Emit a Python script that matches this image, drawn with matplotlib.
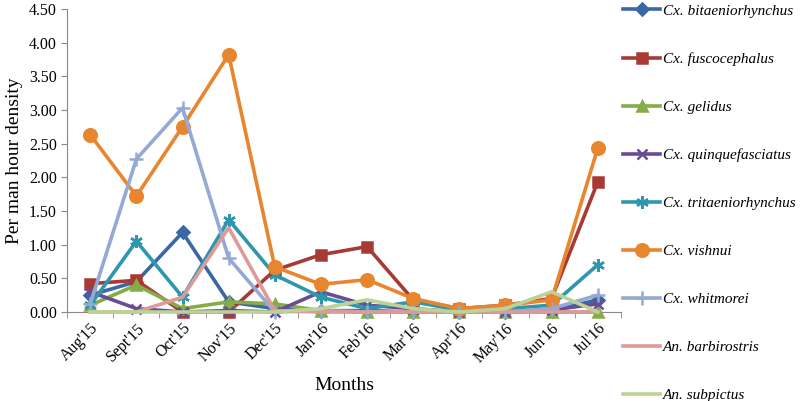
import numpy as np
import matplotlib
matplotlib.use("Agg")
import matplotlib.pyplot as plt

plt.rcParams['font.family'] = ['Liberation Serif', 'DejaVu Serif']

months = ["Aug'15", "Sept'15", "Oct'15", "Nov'15", "Dec'15", "Jan'16",
          "Feb'16", "Mar'16", "Apr'16", "May'16", "Jun'16", "Jul'16"]

bitaeniorhynchus = [0.25, 0.45, 1.18, 0.15, 0.05, 0.02, 0.02, 0.0, 0.0, 0.0, 0.02, 0.18]
fuscocephalus = [0.42, 0.47, 0.0, 0.0, 0.62, 0.85, 0.97, 0.18, 0.05, 0.1, 0.2, 1.93]
gelidus = [0.1, 0.4, 0.05, 0.15, 0.12, 0.02, 0.0, 0.0, 0.0, 0.0, 0.0, 0.0]
quinquefasciatus = [0.3, 0.05, 0.0, 0.02, 0.0, 0.3, 0.1, 0.05, 0.0, 0.0, 0.03, 0.12]
tritaeniorhynchus = [0.1, 1.05, 0.22, 1.37, 0.55, 0.22, 0.05, 0.15, 0.03, 0.05, 0.1, 0.7]
vishnui = [2.63, 1.72, 2.75, 3.82, 0.67, 0.41, 0.48, 0.2, 0.05, 0.1, 0.18, 2.43]
whitmorei = [0.12, 2.27, 3.03, 0.8, 0.0, 0.02, 0.0, 0.0, 0.0, 0.0, 0.05, 0.25]
barbirostris = [0.0, 0.0, 0.22, 1.25, 0.02, 0.0, 0.0, 0.0, 0.0, 0.0, 0.0, 0.0]
subpictus = [0.0, 0.0, 0.0, 0.0, 0.0, 0.05, 0.18, 0.05, 0.0, 0.05, 0.3, 0.0]

series = [
    ("Cx. bitaeniorhynchus", bitaeniorhynchus, "#3A67A5", "D", 6),
    ("Cx. fuscocephalus", fuscocephalus, "#A83A36", "s", 7),
    ("Cx. gelidus", gelidus, "#86AC47", "^", 7),
    ("Cx. quinquefasciatus", quinquefasciatus, "#6A4C93", "x", 7),
    ("Cx. tritaeniorhynchus", tritaeniorhynchus, "#2E97AE", (6, 2, 0), 9),
    ("Cx. vishnui", vishnui, "#E8852F", "o", 9),
    ("Cx. whitmorei", whitmorei, "#94AAD4", "+", 10),
    ("An. barbirostris", barbirostris, "#DC9A98", None, 0),
    ("An. subpictus", subpictus, "#BCD395", None, 0),
]

fig = plt.figure(figsize=(8, 4.01), dpi=100)
ax = fig.add_axes([0.084, 0.222, 0.692, 0.756])

x = np.arange(len(months))
for name, vals, col, mk, ms in series:
    ax.plot(x, vals, color=col, lw=2.6, marker=mk, markersize=ms,
            markeredgewidth=1.8, label=name, clip_on=False, zorder=3)

ax.set_xlim(-0.5, len(months) - 0.5)
ax.set_ylim(0, 4.5)
ax.set_yticks(np.arange(0, 4.51, 0.5))
ax.set_yticklabels([f"{v:.2f}" for v in np.arange(0, 4.51, 0.5)], fontsize=11.5)
ax.set_xticks(x)
ax.set_xticklabels(months, rotation=45, ha='right', rotation_mode='anchor', fontsize=11.5)
ax.set_xticks(np.arange(-0.5, len(months)), minor=True)
ax.tick_params(axis='x', which='major', length=0, pad=6)
ax.tick_params(axis='x', which='minor', length=4, color='#888888', direction='out')
ax.tick_params(axis='y', length=4, color='#888888', direction='out')

for s in ['top', 'right']:
    ax.spines[s].set_visible(False)
for s in ['left', 'bottom']:
    ax.spines[s].set_color('#888888')

ax.set_ylabel("Per man hour density", fontsize=14)
ax.set_xlabel("Months", fontsize=14, labelpad=8)

leg = fig.legend(loc='upper left', bbox_to_anchor=(0.779, 0.99), frameon=False,
                 borderpad=0, borderaxespad=0, labelspacing=2.25,
                 handlelength=2.4, handletextpad=0.2,
                 prop={'family': 'Liberation Serif', 'style': 'italic', 'size': 11})

fig.savefig("out.png", dpi=100)
